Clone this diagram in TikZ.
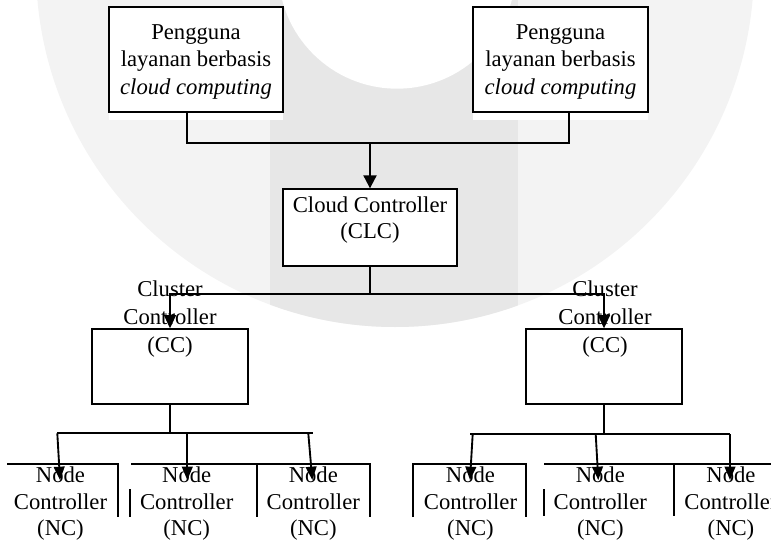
\documentclass[tikz,border=0pt]{standalone}
\usepackage{fontspec}
\setmainfont{Liberation Serif}
\usetikzlibrary{arrows.meta,fit}
\definecolor{ringgray}{RGB}{243,243,243}
\definecolor{bargray}{RGB}{231,231,231}
\begin{document}
\begin{tikzpicture}[x=0.75pt,y=-0.75pt,
  bigbox/.style={draw, line width=1.5pt, fill=white, inner sep=0pt},
  midbox/.style={draw, line width=1pt, fill=white, inner sep=0pt},
  lbl/.style={inner sep=0pt, align=center, anchor=north},
  ftop/.style={font=\fontsize{17}{20.6}\selectfont},
  fclc/.style={font=\fontsize{17}{19.1}\selectfont},
  fcc/.style={font=\fontsize{17}{21}\selectfont},
  fnc/.style={font=\fontsize{17}{19.65}\selectfont},
  wirea/.style={line width=1.5pt},
  wireb/.style={line width=1.2pt},
  wirec/.style={line width=1.4pt},
  ncline/.style={line width=1.6pt},
  arrtop/.style={-{Triangle[length=9.75pt,width=9.75pt]}},
  arrcc/.style={-{Triangle[length=10pt,width=9pt]}},
  arrnc/.style={-{Triangle[length=10pt,width=8pt]}}
]
\useasboundingbox (0,0) rectangle (771,542);
\clip (0,0) rectangle (771,542);

% watermark
\fill[ringgray] (395,-32) circle[radius=269.25pt];
\begin{scope}
  \clip (395,-32) circle[radius=269.25pt];
  \fill[bargray] (270,0) rectangle (518,542);
\end{scope}
\fill[white] (397,-30) circle[radius=89pt];
\fill[white] (109,7) rectangle (283,120);
\fill[white] (473,7) rectangle (648,120);

% boxes
\node[bigbox, fit={(109,7) (283,112)}] (u1) {};
\node[bigbox, fit={(473,7) (648,112)}] (u2) {};
\node[midbox, fit={(283,189) (457,266)}] (clc) {};
\node[midbox, fit={(92,329) (248,404)}] (ccL) {};
\node[midbox, fit={(526,329) (682,404)}] (ccR) {};

% texts
\node[lbl, ftop] (t1) at (196,20) {\strut Pengguna\\\strut layanan berbasis\\\strut\textit{cloud computing}};
\node[lbl, ftop] (t2) at (560.5,20) {\strut Pengguna\\\strut layanan berbasis\\\strut\textit{cloud computing}};
\node[lbl, fclc] (tclc) at (370,194.9) {\strut Cloud Controller\\\strut (CLC)};
\node[lbl, fcc] (tccL) at (170,276.4) {\strut Cluster\\\strut Controller\\\strut (CC)};
\node[lbl, fcc] (tccR) at (605,276.4) {\strut Cluster\\\strut Controller\\\strut (CC)};
\node[lbl, fnc] (nc1) at (60.5,464.2) {\strut Node\\\strut Controller\\\strut (NC)};
\node[lbl, fnc] (nc2) at (186.7,464.2) {\strut Node\\\strut Controller\\\strut (NC)};
\node[lbl, fnc] (nc3) at (313.3,464.2) {\strut Node\\\strut Controller\\\strut (NC)};
\node[lbl, fnc] (nc4) at (470.5,464.2) {\strut Node\\\strut Controller\\\strut (NC)};
\node[lbl, fnc] (nc5) at (600.3,464.2) {\strut Node\\\strut Controller\\\strut (NC)};
\node[lbl, fnc] (nc6) at (731,464.2) {\strut Node\\\strut Controller\\\strut (NC)};

% NC open frames
\draw[ncline] (7,464) -- (118,464) -- (118,517);
\draw[ncline] (131,464) -- (370,464) -- (370,517);
\draw[ncline] (130,489) -- (130,517);
\draw[ncline] (257,464) -- (257,517);
\draw[ncline] (413,517) -- (413,464) -- (526,464) -- (526,517);
\draw[ncline] (544,464) -- (776,464);
\draw[ncline] (544,489) -- (544,516);
\draw[ncline] (674,464) -- (674,516);

% users -> CLC
\coordinate (tl) at (187,143);
\coordinate (tr) at (569,143);
\coordinate (tm) at (370,143);
\draw[wirea] (u1.south -| tl) -- (tl) -- (tr) -- (u2.south -| tr);
\draw[wirea, arrtop] (tm) -- (clc.north);

% CLC -> CC
\coordinate (cj) at (370,294);
\draw[wireb] (clc.south) -- (cj);
\draw[wireb, arrcc] (cj) -| (ccL.north);
\draw[wireb, arrcc] (cj) -| (ccR.north);

% CC left -> NC
\coordinate (lb1) at (57.3,433.3);
\coordinate (lb2) at (313,433.3);
\draw[wirec] (ccL.south) -- (ccL.south |- lb1);
\draw[wirec] (lb1) -- (lb2);
\coordinate (n1e) at (60,480);
\coordinate (n2s) at (187.3,433.3);
\coordinate (n2e) at (187.3,480);
\coordinate (n3s) at (308.3,433.3);
\coordinate (n3e) at (312.3,480);
\draw[wirec, arrnc] (lb1) -- (n1e);
\draw[wirec, arrnc] (n2s) -- (n2e);
\draw[wirec, arrnc] (n3s) -- (n3e);

% CC right -> NC
\coordinate (rb1) at (470,434);
\coordinate (rb2) at (730,434);
\draw[wirec] (ccR.south) -- (ccR.south |- rb1);
\draw[wirec] (rb1) -- (rb2);
\coordinate (n4s) at (472.7,434);
\coordinate (n4e) at (470,480);
\coordinate (n5s) at (595.7,434);
\coordinate (n5e) at (598.3,480);
\coordinate (n6e) at (730,480);
\draw[wirec, arrnc] (n4s) -- (n4e);
\draw[wirec, arrnc] (n5s) -- (n5e);
\draw[wirec, arrnc] (rb2) -- (n6e);
\end{tikzpicture}
\end{document}
